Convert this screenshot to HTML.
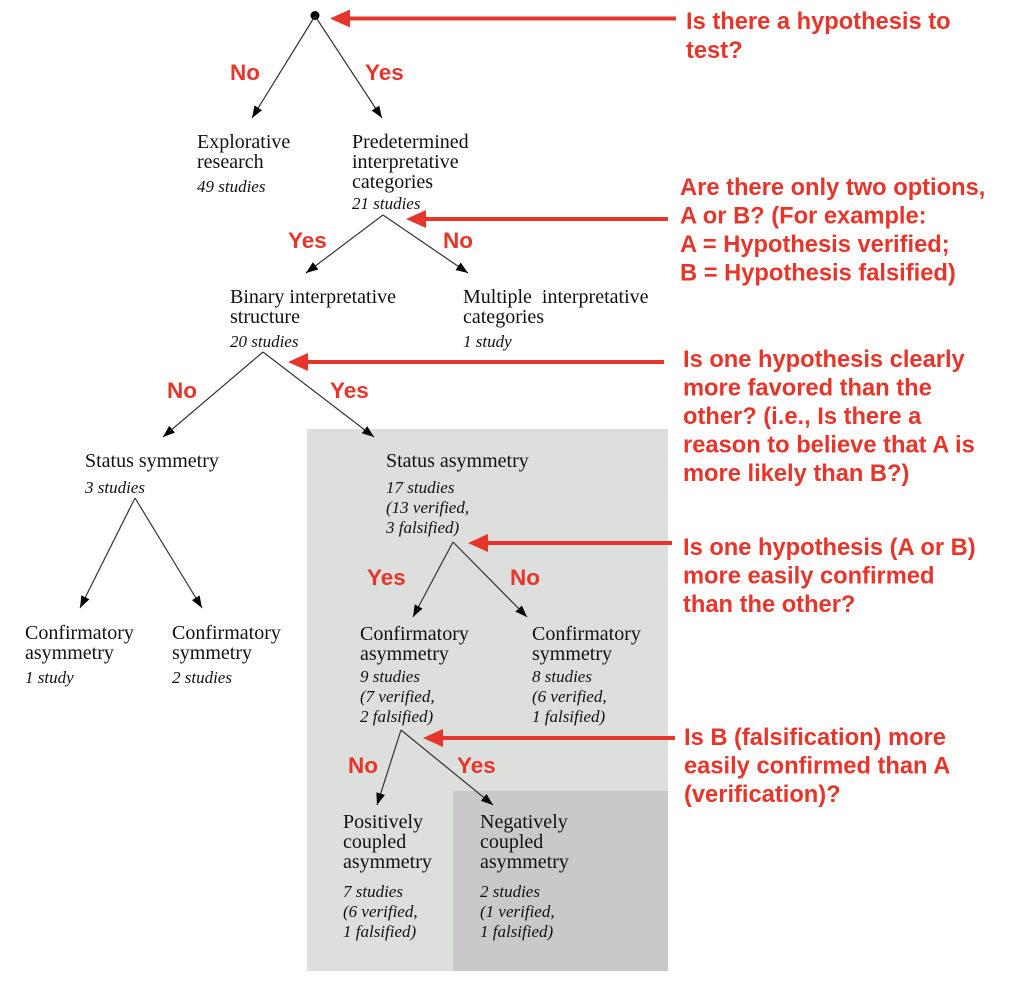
<!DOCTYPE html>
<html>
<head>
<meta charset="utf-8">
<style>
html,body{margin:0;padding:0;background:#fff;}
body{width:1024px;height:984px;overflow:hidden;}
svg{display:block;}
.n{font-family:"Liberation Serif",serif;font-size:20px;fill:#111;}
.i{font-family:"Liberation Serif",serif;font-size:17px;font-style:italic;fill:#111;}
.q{font-family:"Liberation Sans",sans-serif;font-size:23.7px;font-weight:bold;fill:#e6352a;}
.l{font-family:"Liberation Sans",sans-serif;font-size:22.5px;font-weight:bold;fill:#e6352a;}
.c{stroke:#333;stroke-width:1.2;fill:none;}
.r{stroke:#e6352a;stroke-width:4;}
</style>
</head>
<body>
<svg width="1024" height="984" viewBox="0 0 1024 984" xmlns="http://www.w3.org/2000/svg">
<defs>
<marker id="ah" markerUnits="userSpaceOnUse" markerWidth="13" markerHeight="10" refX="12" refY="4.5" orient="auto">
<path d="M0,0 L12,4.5 L0,9 z" fill="#000"/>
</marker>
</defs>

<!-- shaded boxes -->
<rect x="307" y="429" width="361" height="542" fill="#dcdfdb"/>
<rect x="453" y="791" width="215" height="180" fill="#c9c9cc"/>

<!-- root -->
<circle cx="315" cy="15.5" r="4.5" fill="#000"/>
<line class="c" x1="315" y1="16" x2="252" y2="118" marker-end="url(#ah)"/>
<line class="c" x1="315" y1="16" x2="382" y2="118" marker-end="url(#ah)"/>
<text class="l" x="230" y="80">No</text>
<text class="l" x="365" y="80">Yes</text>

<!-- level 1 nodes -->
<text class="n" x="197" y="148">Explorative</text>
<text class="n" x="197" y="168">research</text>
<text class="i" x="197" y="192">49 studies</text>

<text class="n" x="352" y="148">Predetermined</text>
<text class="n" x="352" y="168">interpretative</text>
<text class="n" x="352" y="188">categories</text>
<text class="i" x="352" y="209">21 studies</text>

<line class="c" x1="383" y1="215" x2="306" y2="273" marker-end="url(#ah)"/>
<line class="c" x1="383" y1="215" x2="468" y2="273" marker-end="url(#ah)"/>
<text class="l" x="288" y="248">Yes</text>
<text class="l" x="443" y="248">No</text>

<!-- level 2 -->
<text class="n" x="230" y="303">Binary interpretative</text>
<text class="n" x="230" y="323">structure</text>
<text class="i" x="230" y="347">20 studies</text>

<text class="n" x="463" y="303" style="white-space:pre">Multiple  interpretative</text>
<text class="n" x="463" y="323">categories</text>
<text class="i" x="463" y="347">1 study</text>

<line class="c" x1="263" y1="352" x2="163" y2="437" marker-end="url(#ah)"/>
<line class="c" x1="263" y1="352" x2="374" y2="437" marker-end="url(#ah)"/>
<text class="l" x="167" y="398">No</text>
<text class="l" x="330" y="398">Yes</text>

<!-- level 3 left -->
<text class="n" x="85" y="467">Status symmetry</text>
<text class="i" x="85" y="493">3 studies</text>
<line class="c" x1="135" y1="498" x2="80" y2="608" marker-end="url(#ah)"/>
<line class="c" x1="135" y1="498" x2="202" y2="608" marker-end="url(#ah)"/>

<text class="n" x="25" y="639">Confirmatory</text>
<text class="n" x="25" y="659">asymmetry</text>
<text class="i" x="25" y="683">1 study</text>

<text class="n" x="172" y="639">Confirmatory</text>
<text class="n" x="172" y="659">symmetry</text>
<text class="i" x="172" y="683">2 studies</text>

<!-- level 3 right -->
<text class="n" x="386" y="467">Status asymmetry</text>
<text class="i" x="386" y="493">17 studies</text>
<text class="i" x="386" y="513">(13 verified,</text>
<text class="i" x="386" y="533">3 falsified)</text>

<line class="c" x1="453" y1="542" x2="413" y2="617" marker-end="url(#ah)"/>
<line class="c" x1="453" y1="542" x2="527" y2="617" marker-end="url(#ah)"/>
<text class="l" x="367" y="585">Yes</text>
<text class="l" x="510" y="585">No</text>

<text class="n" x="360" y="640">Confirmatory</text>
<text class="n" x="360" y="660">asymmetry</text>
<text class="i" x="360" y="682">9 studies</text>
<text class="i" x="360" y="702">(7 verified,</text>
<text class="i" x="360" y="722">2 falsified)</text>

<text class="n" x="532" y="640">Confirmatory</text>
<text class="n" x="532" y="660">symmetry</text>
<text class="i" x="532" y="682">8 studies</text>
<text class="i" x="532" y="702">(6 verified,</text>
<text class="i" x="532" y="722">1 falsified)</text>

<line class="c" x1="401" y1="730" x2="377" y2="805" marker-end="url(#ah)"/>
<line class="c" x1="401" y1="730" x2="493" y2="805" marker-end="url(#ah)"/>
<text class="l" x="348" y="773">No</text>
<text class="l" x="457" y="773">Yes</text>

<text class="n" x="343" y="828">Positively</text>
<text class="n" x="343" y="848">coupled</text>
<text class="n" x="343" y="868">asymmetry</text>
<text class="i" x="343" y="897">7 studies</text>
<text class="i" x="343" y="917">(6 verified,</text>
<text class="i" x="343" y="937">1 falsified)</text>

<text class="n" x="480" y="828">Negatively</text>
<text class="n" x="480" y="848">coupled</text>
<text class="n" x="480" y="868">asymmetry</text>
<text class="i" x="480" y="897">2 studies</text>
<text class="i" x="480" y="917">(1 verified,</text>
<text class="i" x="480" y="937">1 falsified)</text>

<!-- red arrows -->
<line class="r" x1="676" y1="18.5" x2="348" y2="18.5"/>
<polygon points="330,18.5 350,9.5 350,27.5" fill="#e6352a"/>

<line class="r" x1="668" y1="219" x2="424" y2="219"/>
<polygon points="406,219 426,210 426,228" fill="#e6352a"/>

<line class="r" x1="664" y1="362" x2="306" y2="362"/>
<polygon points="288,362 308,353 308,371" fill="#e6352a"/>

<line class="r" x1="672" y1="543" x2="486" y2="543"/>
<polygon points="468,543 488,534 488,552" fill="#e6352a"/>

<line class="r" x1="675" y1="738" x2="441" y2="738"/>
<polygon points="423,738 443,729 443,747" fill="#e6352a"/>

<!-- questions -->
<text class="q" x="686" y="29">Is there a hypothesis to</text>
<text class="q" x="686" y="58">test?</text>

<text class="q" x="680" y="195">Are there only two options,</text>
<text class="q" x="680" y="223.5">A or B? (For example:</text>
<text class="q" x="680" y="252">A = Hypothesis verified;</text>
<text class="q" x="680" y="280.5">B = Hypothesis falsified)</text>

<text class="q" x="683" y="367">Is one hypothesis clearly</text>
<text class="q" x="683" y="395.5">more favored than the</text>
<text class="q" x="683" y="424">other? (i.e., Is there a</text>
<text class="q" x="683" y="452.5">reason to believe that A is</text>
<text class="q" x="683" y="481">more likely than B?)</text>

<text class="q" x="683" y="555">Is one hypothesis (A or B)</text>
<text class="q" x="683" y="583.5">more easily confirmed</text>
<text class="q" x="683" y="612">than the other?</text>

<text class="q" x="684" y="745">Is B (falsification) more</text>
<text class="q" x="684" y="773.5">easily confirmed than A</text>
<text class="q" x="684" y="802">(verification)?</text>
</svg>
</body>
</html>
